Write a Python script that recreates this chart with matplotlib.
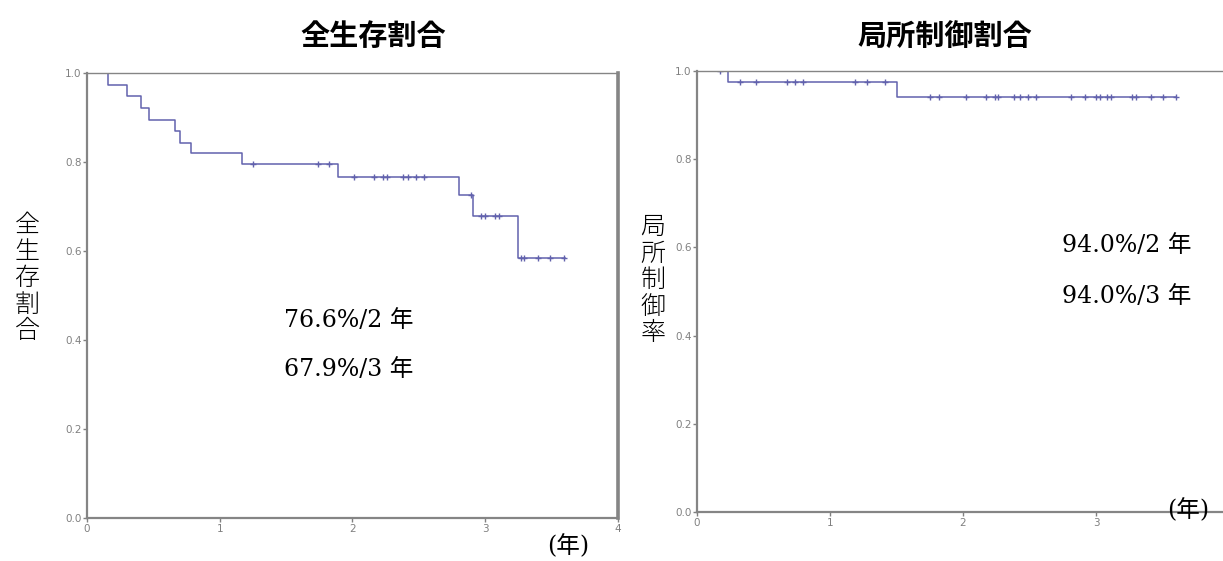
import numpy as np
import matplotlib.pyplot as plt

# overall survival (left panel)
os_event_t = [0.16, 0.30, 0.41, 0.47, 0.66, 0.70, 0.78, 1.17, 1.89, 2.80, 2.91, 3.25]
os_surv = [0.974, 0.948, 0.921, 0.895, 0.869, 0.843, 0.820, 0.795, 0.766, 0.726, 0.679, 0.584]
os_cens_t = [1.25, 1.74, 1.82, 2.01, 2.16, 2.23, 2.26, 2.38, 2.42, 2.48, 2.54, 2.89,
             2.97, 3.00, 3.07, 3.10, 3.27, 3.29, 3.40, 3.49, 3.59]
os_end = 3.60

# local control (right panel)
lc_event_t = [0.23, 1.50]
lc_surv = [0.975, 0.940]
lc_cens_t = [0.17, 0.32, 0.44, 0.68, 0.74, 0.80, 1.19, 1.28, 1.41, 1.75, 1.82, 2.02, 2.17,
             2.24, 2.26, 2.38, 2.43, 2.49, 2.55, 2.81, 2.92, 3.00, 3.03, 3.08, 3.11,
             3.27, 3.30, 3.41, 3.50, 3.60]
lc_end = 3.60

yticks = [0.0, 0.2, 0.4, 0.6, 0.8, 1.0]
xticks = [0, 1, 2, 3, 4]

line_c = '#6262ad'
spine_c = '#858585'
tick_c = '#808080'
serif_jp = ['DejaVu Serif', 'Noto Sans CJK JP']
cjk = ['Noto Sans CJK JP']

W, H = 1223, 561
fig = plt.figure(figsize=(W / 100, H / 100), dpi=100)


def px(x0, y0, x1, y1):
    # pixel box -> figure fraction rect
    return [x0 / W, 1 - y1 / H, (x1 - x0) / W, (y1 - y0) / H]


def ftxt(x, y, s, **kw):
    fig.text(x / W, 1 - y / H, s, **kw)


def km(ax, ev_t, surv, cens_t, end):
    xs = [0] + list(ev_t) + [end]
    ys = [1.0] + list(surv) + [surv[-1]]
    ax.step(xs, ys, where='post', color=line_c, lw=1.1)
    idx = np.searchsorted(ev_t, cens_t, side='right')
    full = np.array([1.0] + list(surv))
    ax.plot(cens_t, full[idx], ls='none', marker='+', ms=5, mew=1.0, color=line_c)


def style(ax, xmax):
    ax.set_xlim(0, xmax)
    ax.set_ylim(0, 1.0)
    ax.set_xticks([t for t in xticks if t <= xmax])
    ax.set_yticks(yticks)
    ax.set_yticklabels([f"{v:.1f}" for v in yticks])
    ax.tick_params(direction='out', length=3, width=1, colors=tick_c, labelsize=7.5, pad=1)
    for s in ax.spines.values():
        s.set_color(spine_c)
    ax.spines['left'].set_linewidth(1.6)
    ax.spines['bottom'].set_linewidth(1.6)
    ax.spines['top'].set_linewidth(1.0)
    ax.spines['right'].set_linewidth(2.6)


ax1 = fig.add_axes(px(87, 73, 618, 518))
km(ax1, os_event_t, os_surv, os_cens_t, os_end)
style(ax1, 4.0)

ax2 = fig.add_axes(px(697, 71, 1223, 512))
km(ax2, lc_event_t, lc_surv, lc_cens_t, lc_end)
style(ax2, (1223 - 697) / 133.0)
ax2.spines['right'].set_visible(False)

ftxt(284, 327, "76.6%/2 年", fontsize=17, family=serif_jp, va='baseline')
ftxt(284, 376, "67.9%/3 年", fontsize=17, family=serif_jp, va='baseline')
ftxt(1062, 252, "94.0%/2 年", fontsize=17, family=serif_jp, va='baseline')
ftxt(1062, 303, "94.0%/3 年", fontsize=17, family=serif_jp, va='baseline')

ftxt(373, 36, "全生存割合", fontsize=21, fontweight='bold', family=cjk,
     ha='center', va='center')
ftxt(945, 36, "局所制御割合", fontsize=21, fontweight='bold', family=cjk,
     ha='center', va='center')

ftxt(27, 278, "全\n生\n存\n割\n合", fontsize=18, fontweight='light', family=cjk,
     ha='center', va='center', linespacing=1.0)
ftxt(653, 280, "局\n所\n制\n御\n率", fontsize=18, fontweight='light', family=cjk,
     ha='center', va='center', linespacing=1.0)

ftxt(568, 546, "(年)", fontsize=17, family=serif_jp, ha='center', va='center')
ftxt(1188, 510, "(年)", fontsize=17, family=serif_jp, ha='center', va='center')

fig.savefig('out.png', dpi=100)
